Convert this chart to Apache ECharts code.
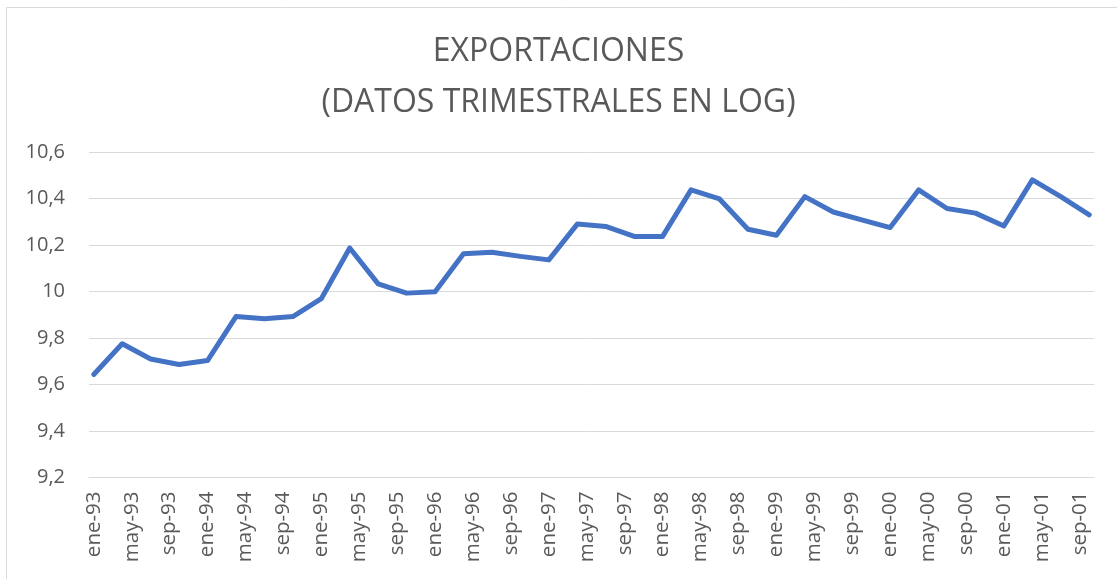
<!DOCTYPE html>
<html>
<head>
<meta charset="utf-8">
<script src="https://cdn.jsdelivr.net/npm/echarts@6/dist/echarts.min.js"></script>
<style>
  html, body { margin: 0; padding: 0; background: #fff; }
  #chart { width: 1117px; height: 579px; }
</style>
</head>
<body>
<div id="chart"></div>
<script>
// month names (Excel es-ES short) and years on the axis
const monthNames = ['ene', 'feb', 'mar', 'abr', 'may', 'jun', 'jul', 'ago', 'sep', 'oct', 'nov', 'dic'];
const years = ['93', '94', '95', '96', '97', '98', '99', '00', '01'];
// quarterly export values (log), ene-93 .. oct-01
const exportValues = [
  9.643, 9.775, 9.710, 9.686,
  9.703, 9.892, 9.883, 9.892,
  9.969, 10.187, 10.033, 9.993,
  9.999, 10.162, 10.169, 10.151,
  10.136, 10.290, 10.280, 10.237,
  10.237, 10.437, 10.398, 10.268,
  10.242, 10.408, 10.342, 10.308,
  10.275, 10.437, 10.357, 10.337,
  10.282, 10.480, 10.408, 10.330
];

// one category per month, the axis ends at oct-01
const months = [];
years.forEach(function (y) {
  monthNames.forEach(function (m) {
    months.push(m + '-' + y);
  });
});
const axisMonths = months.slice(0, months.indexOf('oct-01') + 1);

// each quarter sits on its first month
const seriesData = exportValues.map(function (v, i) {
  return [i * 3, v];
});

const chart = echarts.init(document.getElementById('chart'));
const option = {
  animation: false,
  textStyle: { fontFamily: 'Open Sans' },
  title: {
    text: 'EXPORTACIONES\n(DATOS TRIMESTRALES EN LOG)',
    left: 'center',
    top: 26,
    padding: 0,
    textStyle: {
      fontSize: 32,
      fontWeight: 'normal',
      color: '#595959',
      lineHeight: 51,
      fontFamily: 'Open Sans'
    }
  },
  graphic: [{
    type: 'rect',
    shape: { x: 6.5, y: 7.5, width: 1200, height: 700 },
    style: { fill: 'none', stroke: '#d9d9d9', lineWidth: 1 },
    silent: true,
    z: -1
  }],
  grid: {
    left: 89,
    right: 23,
    top: 152,
    bottom: 101.5
  },
  xAxis: {
    type: 'category',
    data: axisMonths,
    boundaryGap: true,
    axisLine: { lineStyle: { color: '#d9d9d9', width: 1 } },
    axisTick: { interval: 3, length: 6, lineStyle: { color: '#d9d9d9' } },
    axisLabel: {
      interval: 3,
      rotate: 90,
      margin: 14,
      fontSize: 20.5,
      color: '#595959'
    },
    splitLine: { show: false }
  },
  yAxis: {
    type: 'value',
    min: 9.2,
    max: 10.6,
    interval: 0.2,
    axisLine: { show: false },
    axisTick: { show: false },
    axisLabel: {
      margin: 24,
      fontSize: 20,
      color: '#595959',
      formatter: function (v) {
        return String(Math.round(v * 10) / 10).replace('.', ',');
      }
    },
    splitLine: { lineStyle: { color: '#d9d9d9', width: 1 } }
  },
  series: [{
    type: 'line',
    data: seriesData,
    symbol: 'none',
    smooth: false,
    lineStyle: { color: '#4472C4', width: 5, join: 'round', cap: 'round' }
  }]
};
chart.setOption(option);
</script>
</body>
</html>
